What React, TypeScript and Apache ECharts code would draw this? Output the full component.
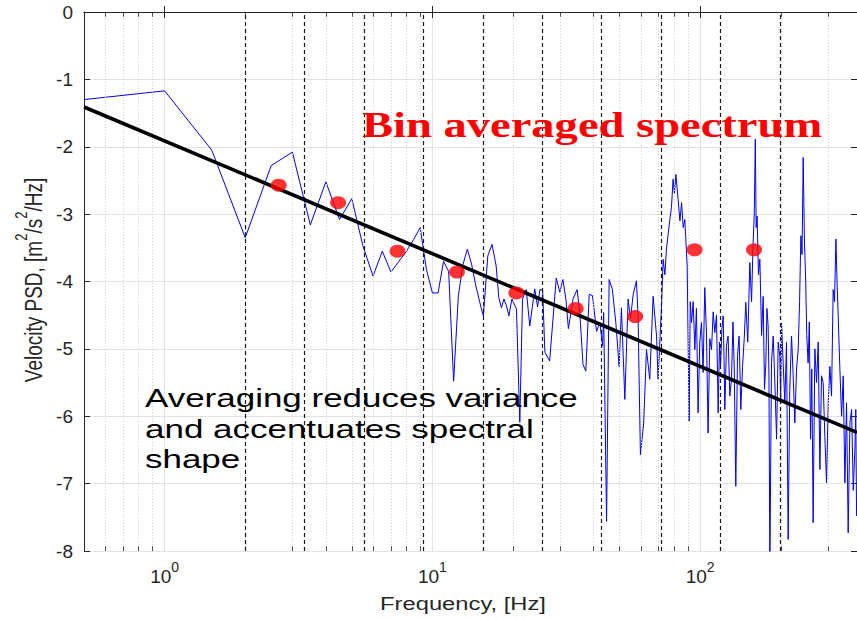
import React, { useEffect, useRef } from "react";
import * as echarts from "echarts";

// Raw spectrum (frequency in Hz, log10 PSD)
const specFreq = [
  0.5, 1, 1.5, 2, 2.5, 3, 3.5, 4, 4.5, 5, 5.5, 6, 6.5, 7, 7.5, 8, 8.5, 9, 9.5, 10,
  10.5, 11, 11.5, 12, 12.5, 13, 13.5, 14, 14.5, 15.2, 15.5, 16.1, 16.7, 17.3, 17.7,
  18.1, 18.5, 18.9, 19.3, 19.8, 20.6, 21.2, 21.7, 22.4, 23.1, 24.1, 24.7, 25.2, 25.8,
  26.3, 27.4, 29.0, 29.9, 30.7, 31.5, 32.2, 33.5, 34.7, 35.5, 36.5, 37.4, 38.5, 39.6,
  41.0, 42.2, 43.2, 43.6, 44.7, 45.7, 47.0, 48.4, 49.8, 50.8, 52.3, 53.8, 54.9, 56.2,
  57.8, 58.6, 59.8, 61.5, 63.0, 64.8, 66.7, 68.7, 69.6, 71.7, 72.7, 73.8, 74.8, 75.9,
  77.0, 78.1, 79.2, 80.1, 81.1, 82.7, 84.0, 85.2, 86.4, 87.6, 89.4, 90.9, 91.8, 92.8,
  94.1, 95.5, 96.8, 98.2, 99.6, 101.1, 102.5, 104.0, 105.5, 107.0, 108.6, 110.2, 111.8,
  113.4, 115.0, 116.7, 118.0, 119.1, 120.5, 121.8, 122.7, 123.6, 125.3, 127.1, 129.0,
  130.9, 132.5, 134.0, 135.8, 137.8, 139.7, 141.8, 143.9, 146.0, 148.0, 150.5, 153.2,
  155.5, 157.6, 159.2, 160.6, 161.8, 163.1, 165.0, 167.0, 169.5, 171.8, 173.8, 175.8,
  177.5, 179.3, 180.6, 182.0, 184.6, 187.3, 190.0, 192.8, 195.5, 198.3, 199.8, 201.2,
  204.0, 207.0, 210.0, 213.0, 216.0, 219.3, 222.4, 225.6, 228.9, 232.2, 235.0, 237.6,
  240.0, 242.4, 245.0, 247.4, 250.0, 252.9, 255.5, 258.2, 261.0, 264.1, 268.0, 271.9,
  275.8, 279.8, 283.8, 287.8, 292.0, 296.3, 300.6, 304.9, 309.3, 313.7, 317.4, 321.1,
  324.3, 327.5, 332.3, 337.2, 342.0, 346.9, 351.9, 356.9, 362.2, 367.5, 372.8, 378.1,
  381.0, 383.6,
];
const specPsd = [
  -1.3, -1.17, -2.05, -3.35, -2.28, -2.08, -3.16, -2.52, -3.08, -2.77, -3.47, -3.92,
  -3.55, -3.86, -3.7, -3.55, -3.38, -3.2, -3.82, -4.17, -4.17, -3.7, -3.85, -5.48,
  -4.21, -3.75, -3.52, -3.74, -4.05, -4.39, -4.51, -3.62, -3.45, -3.77, -4.24, -4.39,
  -4.26, -4.36, -4.51, -4.26, -4.41, -6.09, -4.26, -4.12, -4.66, -4.11, -4.38, -4.12,
  -4.13, -5.05, -5.18, -3.95, -4.16, -3.97, -4.26, -4.7, -4.26, -4.12, -4.46, -5.23,
  -5.33, -4.19, -4.21, -4.74, -4.61, -4.96, -4.46, -7.56, -3.97, -4.12, -4.61, -5.26,
  -4.39, -5.75, -4.26, -4.56, -4.19, -3.99, -4.51, -6.57, -6.1, -5.01, -5.45, -4.22,
  -4.81, -5.45, -4.36, -3.67, -3.9, -3.52, -3.3, -3.08, -2.9, -2.48, -2.7, -2.41,
  -2.78, -3.1, -2.83, -3.2, -3.08, -3.77, -6.07, -4.3, -4.61, -4.3, -5.01, -4.4,
  -5.95, -4.9, -4.61, -5.35, -4.09, -4.75, -6.25, -4.85, -5.01, -4.45, -4.76, -4.5,
  -5.95, -4.9, -5.26, -4.7, -4.51, -5.1, -5.9, -4.95, -4.81, -5.7, -5.45, -4.6,
  -5.3, -7.04, -5.1, -4.81, -5.9, -5.26, -4.85, -4.31, -4.9, -3.72, -4.3, -3.42,
  -3.0, -1.89, -3.2, -3.03, -3.9, -3.67, -4.8, -4.22, -5.6, -5.21, -4.4, -4.66,
  -5.4, -8.3, -5.2, -4.81, -5.5, -6.34, -4.9, -5.11, -5.8, -4.61, -5.2, -5.8,
  -4.9, -7.83, -5.6, -4.81, -5.4, -6.1, -5.3, -5.01, -4.3, -3.32, -3.6, -2.16,
  -3.4, -3.92, -4.8, -5.21, -4.6, -6.34, -5.3, -7.58, -5.0, -5.5, -4.9, -6.79,
  -5.4, -5.5, -6.3, -6.99, -5.8, -5.26, -5.7, -4.12, -4.3, -3.37, -4.0, -4.51,
  -5.3, -6.0, -5.4, -6.99, -5.8, -7.73, -6.1, -5.9, -7.1, -6.49, -5.9, -7.48,
];

// -5/3 reference line end points
const fitFreq = [0.5, 385];
const fitPsd = [-1.41, -6.24];

// Bin averages
const binCenters = [2.667, 4.444, 7.407, 12.35, 20.58, 34.29, 57.16, 95.26, 158.8];
const binAvg = [-2.57, -2.83, -3.55, -3.86, -4.17, -4.4, -4.52, -3.53, -3.53];

// Bin edges (dashed vertical lines)
const binEdges = [2, 3.333, 5.556, 9.259, 15.43, 25.72, 42.87, 71.44, 119.1, 198.4];

// Minor log grid positions
const minorFreqs = [
  0.6, 0.7, 0.8, 0.9, 2, 3, 4, 5, 6, 7, 8, 9, 20, 30, 40, 50, 60, 70, 80, 90, 200, 300,
];

const X_MIN = 0.5;
const X_MAX = 385;
const Y_MIN = -8;
const Y_MAX = 0;

export default function App() {
  const ref = useRef<HTMLDivElement>(null);

  useEffect(() => {
    const chart = echarts.init(ref.current!, null, { renderer: "svg" });
    const axisColor = "#262626";
    const font = "Liberation Sans, Arial, Helvetica, sans-serif";

    const expFmt = (v: number) => {
      const e = Math.log10(v);
      if (Math.abs(e - Math.round(e)) > 1e-6) return "";
      return `{b|10}{s|${Math.round(e)}}`;
    };

    const minorTickLines: any[] = [];
    minorFreqs.forEach((f) => {
      minorTickLines.push([{ coord: [f, Y_MIN] }, { coord: [f, Y_MIN + 0.07] }]);
      minorTickLines.push([{ coord: [f, Y_MAX] }, { coord: [f, Y_MAX - 0.07] }]);
    });

    chart.setOption({
      animation: false,
      backgroundColor: "#ffffff",
      grid: { left: 84, right: 0, top: 12, bottom: 68, containLabel: false },
      xAxis: [
        {
          type: "log",
          logBase: 10,
          min: X_MIN,
          max: X_MAX,
          axisLine: { show: true, lineStyle: { color: axisColor, width: 1 } },
          axisTick: { show: true, inside: true, length: 6, lineStyle: { color: axisColor } },
          axisLabel: {
            show: true,
            showMinLabel: false,
            showMaxLabel: false,
            margin: 9,
            formatter: expFmt,
            rich: {
              b: { fontSize: 19, fontFamily: font, color: axisColor, lineHeight: 26, verticalAlign: "bottom" },
              s: { fontSize: 14, fontFamily: font, color: axisColor, lineHeight: 10, verticalAlign: "top" },
            },
          },
          splitLine: { show: true, lineStyle: { color: "#e3e3e3", width: 1 } },
        },
        {
          type: "log",
          logBase: 10,
          min: X_MIN,
          max: X_MAX,
          position: "top",
          axisLine: { show: true, lineStyle: { color: axisColor, width: 1 } },
          axisTick: { show: true, inside: true, length: 6, lineStyle: { color: axisColor } },
          axisLabel: { show: false },
          splitLine: { show: false },
        },
      ],
      yAxis: [
        {
          type: "value",
          min: Y_MIN,
          max: Y_MAX,
          interval: 1,
          axisLine: { show: true, lineStyle: { color: axisColor, width: 1 } },
          axisTick: { show: true, inside: true, length: 6, lineStyle: { color: axisColor } },
          axisLabel: { show: true, fontSize: 19, fontFamily: font, color: axisColor, margin: 11 },
          splitLine: { show: true, lineStyle: { color: "#e3e3e3", width: 1 } },
        },
        {
          type: "value",
          min: Y_MIN,
          max: Y_MAX,
          interval: 1,
          position: "right",
          axisLine: { show: true, lineStyle: { color: axisColor, width: 1 } },
          axisTick: { show: true, inside: true, length: 6, lineStyle: { color: axisColor } },
          axisLabel: { show: false },
          splitLine: { show: false },
        },
      ],
      series: [
        {
          name: "minorGrid",
          type: "scatter",
          data: [],
          z: 1,
          silent: true,
          markLine: {
            silent: true,
            symbol: "none",
            animation: false,
            label: { show: false },
            lineStyle: { type: [1, 2], color: "#cfcfcf", width: 1 },
            data: minorFreqs.map((f) => ({ xAxis: f })),
          },
        },
        {
          name: "minorTicks",
          type: "scatter",
          data: [],
          z: 2,
          silent: true,
          markLine: {
            silent: true,
            symbol: "none",
            animation: false,
            label: { show: false },
            lineStyle: { type: "solid", color: axisColor, width: 0.8 },
            data: minorTickLines,
          },
        },
        {
          name: "spectrum",
          type: "line",
          data: specFreq.map((f, i) => [f, specPsd[i]]),
          showSymbol: false,
          symbol: "none",
          clip: true,
          z: 3,
          lineStyle: { color: "#0000ff", width: 1 },
          itemStyle: { color: "#0000ff" },
        },
        {
          name: "binEdges",
          type: "scatter",
          data: [],
          z: 4,
          silent: true,
          markLine: {
            silent: true,
            symbol: "none",
            animation: false,
            label: { show: false },
            lineStyle: { type: [4, 3], color: "#1a1a1a", width: 1.2 },
            data: binEdges.map((f) => ({ xAxis: f })),
          },
        },
        {
          name: "fit",
          type: "line",
          data: fitFreq.map((f, i) => [f, fitPsd[i]]),
          showSymbol: false,
          symbol: "none",
          z: 5,
          lineStyle: { color: "#000000", width: 3.6 },
        },
        {
          name: "binAverage",
          type: "scatter",
          data: binCenters.map((f, i) => [f, binAvg[i]]),
          symbol: "circle",
          symbolSize: [16, 13],
          z: 6,
          itemStyle: { color: "#ff0000" },
        },
      ],
      graphic: [
        {
          type: "text",
          x: 362,
          y: 125,
          scaleX: 1.33,
          z: 100,
          style: {
            text: "Bin averaged spectrum",
            fontFamily: "Liberation Serif, Times New Roman, serif",
            fontWeight: "bold",
            fontSize: 35,
            fill: "#ff0000",
            align: "left",
            verticalAlign: "middle",
            textAlign: "left",
            textVerticalAlign: "middle",
          },
        },
        {
          type: "text",
          x: 145,
          y: 383,
          scaleX: 1.32,
          z: 100,
          style: {
            text: "Averaging reduces variance\nand accentuates spectral\nshape",
            fontFamily: font,
            fontSize: 26.5,
            lineHeight: 30.5,
            fill: "#000000",
            align: "left",
            verticalAlign: "top",
            textAlign: "left",
            textVerticalAlign: "top",
          },
        },
        {
          type: "text",
          x: 463,
          y: 604,
          scaleX: 1.32,
          z: 100,
          style: {
            text: "Frequency, [Hz]",
            fontFamily: font,
            fontSize: 18,
            fill: axisColor,
            align: "center",
            verticalAlign: "middle",
            textAlign: "center",
            textVerticalAlign: "middle",
          },
        },
        {
          type: "text",
          x: 29,
          y: 280,
          rotation: Math.PI / 2,
          scaleY: 1.3,
          z: 100,
          style: {
            text: "{n|Velocity PSD, [m}{s|2}{n|/s}{s|2}{n|/Hz]}",
            fontFamily: font,
            fontSize: 19,
            fill: axisColor,
            align: "center",
            verticalAlign: "middle",
            textAlign: "center",
            textVerticalAlign: "middle",
            rich: {
              n: { fontSize: 19, fontFamily: font, fill: axisColor, color: axisColor, lineHeight: 26, verticalAlign: "bottom" },
              s: { fontSize: 13, fontFamily: font, fill: axisColor, color: axisColor, lineHeight: 10, verticalAlign: "top" },
            },
          },
        },
      ],
    });

    return () => chart.dispose();
  }, []);

  return (
    <div
      ref={ref}
      style={{ position: "absolute", left: 0, top: 0, width: 857, height: 619, background: "#fff" }}
    />
  );
}
